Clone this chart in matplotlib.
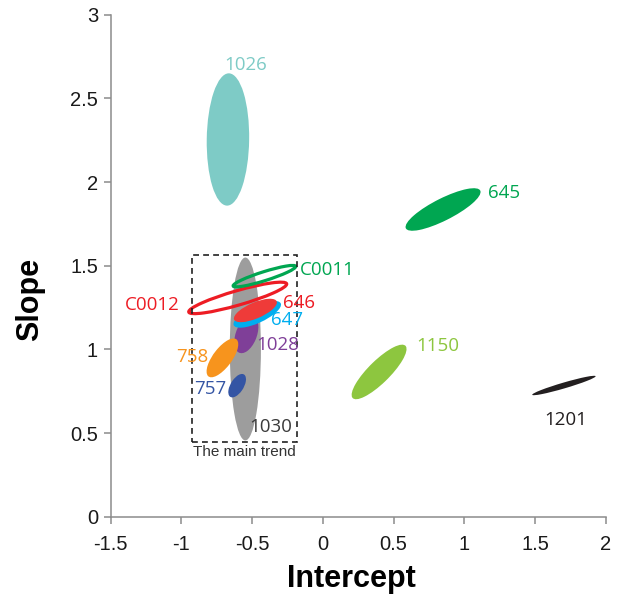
import numpy as np
import matplotlib
matplotlib.use('Agg')
import matplotlib.pyplot as plt
from matplotlib.patches import Ellipse, Rectangle

plt.rcParams['font.family'] = ['Liberation Sans', 'DejaVu Sans']

# confidence regions: centre, half-extent along each axis, correlation
names = ['1030', '1026', '645', '1150', '1201', '1028', '758', '757',
         '647', '646', 'C0012', 'C0011']
cx = [-0.548, -0.671, 0.849, 0.397, 1.703, -0.541, -0.710, -0.606,
      -0.464, -0.477, -0.602, -0.413]
cy = [1.003, 2.254, 1.836, 0.866, 0.785, 1.090, 0.950, 0.784,
      1.210, 1.233, 1.308, 1.438]
sx = [0.110, 0.150, 0.265, 0.194, 0.224, 0.085, 0.112, 0.0625,
      0.168, 0.152, 0.346, 0.221]
sy = [0.546, 0.395, 0.127, 0.163, 0.058, 0.112, 0.116, 0.070,
      0.080, 0.070, 0.094, 0.064]
corr = [0.0, 0.04, 0.82, 0.84, 0.95, 0.4, 0.7, 0.55,
        0.72, 0.68, 0.88, 0.9]
filled = [True] * 10 + [False, False]
colors = ['#9d9d9d', '#7ecbc6', '#00a651', '#8dc63f', '#231f20', '#7f3f98',
          '#f7941d', '#3455a4', '#00aeef', '#ef3b39', '#ed1c24', '#00a651']
label_colors = ['#3a3a3a', '#7ecbc6', '#00a651', '#8dc63f', '#231f20', '#7f3f98',
                '#f7941d', '#3455a4', '#00aeef', '#ed1c24', '#ed1c24', '#00a651']

# main trend box (intercept range, slope range)
trend_x = [-0.925, -0.18]
trend_y = [0.45, 1.565]

xticks = [-1.5, -1, -0.5, 0, 0.5, 1, 1.5, 2]
yticks = [0, 0.5, 1, 1.5, 2, 2.5, 3]

# label anchor: x, y, horizontal alignment
label_at = {
    '1030': (-0.523, 0.539, 'left'),
    '1026': (-0.700, 2.700, 'left'),
    '645': (1.166, 1.932, 'left'),
    '1150': (0.657, 1.020, 'left'),
    '1201': (1.717, 0.579, 'center'),
    '1028': (-0.469, 1.027, 'left'),
    '758': (-0.806, 0.957, 'right'),
    '757': (-0.680, 0.762, 'right'),
    '647': (-0.367, 1.176, 'left'),
    '646': (-0.283, 1.276, 'left'),
    'C0012': (-1.010, 1.266, 'right'),
    'C0011': (-0.163, 1.475, 'left'),
}


def conf_ellipse(x, y, ax_, ay_, r, **kw):
    cov = np.array([[ax_ ** 2, r * ax_ * ay_], [r * ax_ * ay_, ay_ ** 2]])
    vals, vecs = np.linalg.eigh(cov)
    big = vecs[:, 1]
    ang = np.degrees(np.arctan2(big[1], big[0]))
    return Ellipse((x, y), 2 * np.sqrt(vals[1]), 2 * np.sqrt(max(vals[0], 0)),
                   angle=ang, **kw)


fig = plt.figure(figsize=(6.18, 5.96), dpi=100)
ax = fig.add_axes([0.179, 0.1326, 0.8015, 0.843])

for i, n in enumerate(names):
    if filled[i]:
        e = conf_ellipse(cx[i], cy[i], sx[i], sy[i], corr[i],
                         facecolor=colors[i], edgecolor='none', zorder=2 + i * 0.01)
    else:
        e = conf_ellipse(cx[i], cy[i], sx[i], sy[i], corr[i],
                         facecolor='none', edgecolor=colors[i], lw=2.3, zorder=2 + i * 0.01)
    ax.add_patch(e)
    lx, ly, ha = label_at[n]
    ax.text(lx, ly, n, color=label_colors[i], ha=ha, va='center',
            fontsize=13.5, family=['Open Sans', 'DejaVu Sans'], zorder=5)

ax.add_patch(Rectangle((trend_x[0], trend_y[0]), trend_x[1] - trend_x[0],
                       trend_y[1] - trend_y[0], fill=False, ec='#222222',
                       lw=1.2, ls=(0, (3.5, 2.5)), zorder=3))
ax.text(np.mean(trend_x), trend_y[0] - 0.02, 'The main trend', ha='center', va='top',
        fontsize=11, color='#333333')

ax.set_xlim(-1.5, 2)
ax.set_ylim(0, 3)
ax.set_xticks(xticks)
ax.set_xticklabels(['%g' % v for v in xticks])
ax.set_yticks(yticks)
ax.set_yticklabels(['%g' % v for v in yticks])

for s in ['top', 'right']:
    ax.spines[s].set_visible(False)
for s in ['left', 'bottom']:
    ax.spines[s].set_color('#8c8c8c')
    ax.spines[s].set_linewidth(1.1)
ax.tick_params(axis='both', direction='out', length=5, width=1.1, color='#8c8c8c',
               labelsize=14.5, labelcolor='#1a1a1a')
ax.tick_params(axis='x', pad=8)
ax.tick_params(axis='y', pad=4)

ax.set_xlabel('Intercept', fontsize=22, fontweight='bold')
ax.xaxis.set_label_coords(0.486, -0.124)
ax.xaxis.label.set_va('center')
ax.set_ylabel('Slope', fontsize=22, fontweight='bold')
ax.yaxis.set_label_coords(-0.163, 0.432)
ax.yaxis.label.set_va('center')

fig.savefig('out.png', dpi=100)
